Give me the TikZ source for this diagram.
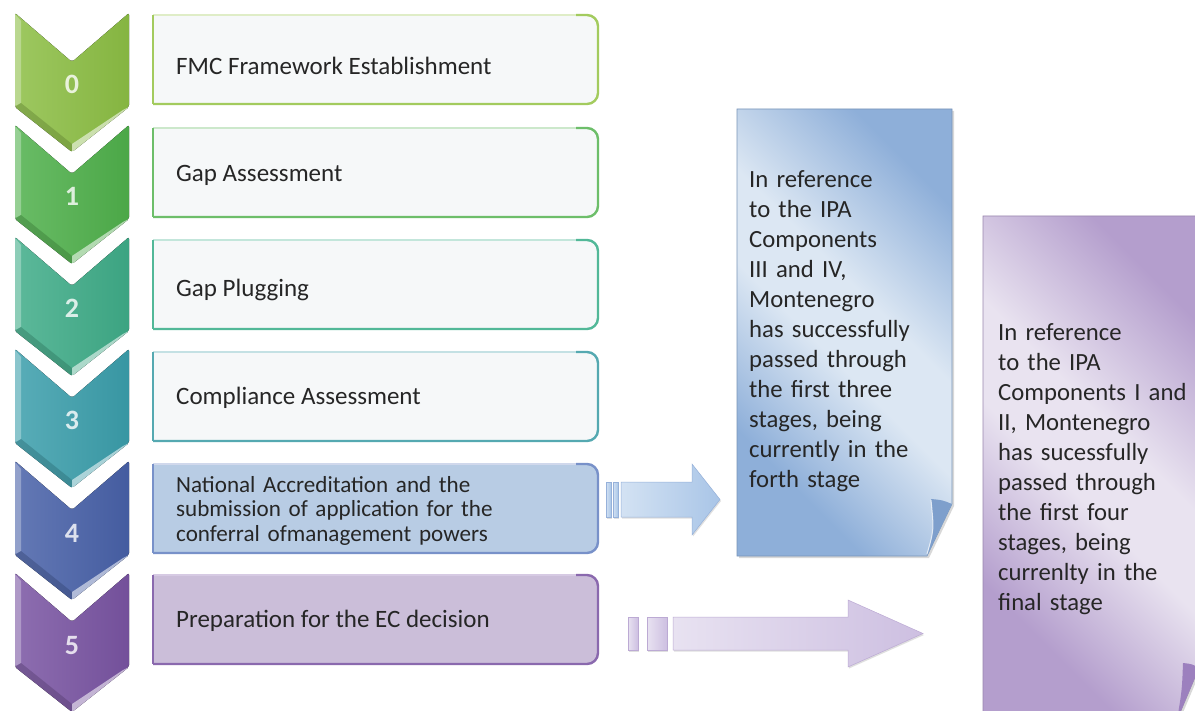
\documentclass[tikz,border=0pt]{standalone}
\usepackage{fontspec}
\setmainfont{Carlito}
\usepackage{tikz}
\usepackage{xcolor}
\usetikzlibrary{shadows}
\definecolor{StageLime}{HTML}{8CBE44}
\definecolor{StageGreen}{HTML}{4FB04B}
\definecolor{StageJade}{HTML}{3FAC88}
\definecolor{StageTeal}{HTML}{3B9EAB}
\definecolor{StageBlue}{HTML}{4861A8}
\definecolor{StagePurple}{HTML}{7954A2}
\definecolor{EdgeLime}{HTML}{A3CB5E}
\definecolor{EdgeGreen}{HTML}{6DBE6A}
\definecolor{EdgeJade}{HTML}{52B898}
\definecolor{EdgeTeal}{HTML}{55A9B1}
\definecolor{EdgeBlue}{HTML}{7891C9}
\definecolor{EdgePurple}{HTML}{8A69AE}
\definecolor{PaleFace}{HTML}{F6F8F9}
\definecolor{BlueFace}{HTML}{B8CCE4}
\definecolor{PurpleFace}{HTML}{CBBED9}
\definecolor{InkGray}{HTML}{262626}
\definecolor{NoteBlueDark}{HTML}{8EAFD9}
\definecolor{NoteBlueLight}{HTML}{DCE7F3}
\definecolor{NoteBlueFold}{HTML}{7E9FCC}
\definecolor{NotePurpleDark}{HTML}{B49ECD}
\definecolor{NotePurpleLight}{HTML}{E9E3F0}
\definecolor{NotePurpleFold}{HTML}{9C80BE}
\definecolor{ArrowBlueLight}{HTML}{D3E2F3}
\definecolor{ArrowBlue}{HTML}{A9C5E7}
\definecolor{ArrowPurpleLight}{HTML}{E8E2F1}
\definecolor{ArrowPurple}{HTML}{CDBFE1}
\pgfdeclarehorizontalshading{bluesheen}{100bp}{color(0bp)=(NoteBlueDark); color(28bp)=(NoteBlueDark); color(46bp)=(NoteBlueLight); color(56bp)=(NoteBlueLight); color(75bp)=(NoteBlueDark); color(100bp)=(NoteBlueDark)}
\pgfdeclarehorizontalshading{purplesheen}{100bp}{color(0bp)=(NotePurpleDark); color(28bp)=(NotePurpleDark); color(46bp)=(NotePurpleLight); color(56bp)=(NotePurpleLight); color(75bp)=(NotePurpleDark); color(100bp)=(NotePurpleDark)}
\tikzset{
  stageframe/.style={anchor=north west, minimum width=445pt, minimum height=89pt, inner sep=0pt, outer sep=0pt},
  stagetext/.style={anchor=base west, inner sep=0pt, text=InkGray, font=\fontsize{25}{30}\selectfont},
  notetext/.style={anchor=base west, inner sep=0pt, text width=205pt, align=left, text=InkGray, font=\fontsize{24.7}{30}\selectfont},
  digit/.style={anchor=base, inner sep=0pt, text=white, text opacity=.8, font=\fontsize{28}{28}\selectfont\bfseries},
  bluearrow/.style={left color=ArrowBlueLight, right color=ArrowBlue, draw=ArrowBlue!80!StageBlue, line width=.5pt, drop shadow={shadow xshift=1pt, shadow yshift=-1.5pt, opacity=.25}},
  purplearrow/.style={left color=ArrowPurpleLight, right color=ArrowPurple, draw=ArrowPurple!80!StagePurple, line width=.5pt, drop shadow={shadow xshift=1pt, shadow yshift=-1.5pt, opacity=.25}},
  bluenote/.style={shading=bluesheen, shading angle=45, draw=NoteBlueDark!85!black, line width=.6pt, drop shadow={shadow xshift=2pt, shadow yshift=-2pt, opacity=.3}},
  purplenote/.style={shading=purplesheen, shading angle=45, draw=NotePurpleDark!85!black, line width=.6pt, drop shadow={shadow xshift=2pt, shadow yshift=-2pt, opacity=.3}}
}
% chevron: top edge, colour, number
\newcommand\stagechevron[3]{%
  \fill[left color=#2!85!white, right color=#2!95!black, rounded corners=2pt]
    (15,#1) -- (72,#1+49) -- (129,#1) -- (129,#1+94) -- (72,#1+139) -- (15,#1+94) -- cycle;
  \fill[white, opacity=.3] (15,#1+1) -- (21,#1+8) -- (21,#1+90) -- (15,#1+93) -- cycle;
  \fill[#2!60!black, opacity=.35] (15,#1+94) -- (72,#1+139) -- (72,#1+131) -- (21,#1+90) -- cycle;
  \fill[white, opacity=.55] (72,#1+139) -- (129,#1+94) -- (123,#1+97) -- (72,#1+131) -- cycle;
  \node[digit] (digit#3) at (72,#1+81) {#3};
}
% box face: node, fill, edge colour
\newcommand\stageface[3]{%
  \fill[#2, rounded corners=11pt] (#1.north west) rectangle (#1.south east);
  \fill[#2] (#1.north west) rectangle ([xshift=20pt]#1.south west);
  \draw[#3!35, line width=1.4pt] (#1.north west) -- ([xshift=-14pt]#1.north east);
  \draw[#3, line width=2.4pt] (#1.north west) -- (#1.south west);
  \draw[#3, line width=2.4pt, rounded corners=11pt] (#1.south west) -- (#1.south east) -- (#1.north east) -- ([xshift=-22pt]#1.north east);
}

\begin{document}
\begin{tikzpicture}[x=1pt, y=-1pt]
\fill[white] (0,0) rectangle (1195,711);
\useasboundingbox (0,0) rectangle (1195,711);
\clip (0,0) rectangle (1195,711);

\stagechevron{13}{StageLime}{0}
\stagechevron{125}{StageGreen}{1}
\stagechevron{237}{StageJade}{2}
\stagechevron{349}{StageTeal}{3}
\stagechevron{461}{StageBlue}{4}
\stagechevron{573}{StagePurple}{5}

\node[stageframe] (box0) at (153,15) {};
\node[stageframe] (box1) at (153,128) {};
\node[stageframe] (box2) at (153,240) {};
\node[stageframe] (box3) at (153,352) {};
\node[stageframe] (box4) at (153,464) {};
\node[stageframe] (box5) at (153,575) {};
\stageface{box0}{PaleFace}{EdgeLime}
\stageface{box1}{PaleFace}{EdgeGreen}
\stageface{box2}{PaleFace}{EdgeJade}
\stageface{box3}{PaleFace}{EdgeTeal}
\stageface{box4}{BlueFace}{EdgeBlue}
\stageface{box5}{PurpleFace}{EdgePurple}

\node[stagetext] (text0) at (176,75) {FMC Framework Establishment};
\node[stagetext] (text1) at (176,182) {Gap Assessment};
\node[stagetext] (text2) at (176,297) {Gap Plugging};
\node[stagetext] (text3) at (176,405) {Compliance Assessment};
\node[stagetext, text width=420pt, align=left, font=\fontsize{23.1}{24}\selectfont] (text4) at (176,493)
  {National Accreditation and the\\submission of application for the\\conferral ofmanagement powers};
\node[stagetext] (text5) at (176,627) {Preparation for the EC decision};

\shadedraw[bluearrow] (606,482) rectangle (611,517);
\shadedraw[bluearrow] (613,482) rectangle (618,517);
\shadedraw[bluearrow] (621,482) -- (692,482) -- (692,464) -- (720,499.5) -- (692,535) -- (692,517) -- (621,517) -- cycle;

\shadedraw[purplearrow] (628,617) rectangle (638,650);
\shadedraw[purplearrow] (647,617) rectangle (667,650);
\shadedraw[purplearrow] (673,617) -- (848,617) -- (848,600) -- (923,633.5) -- (848,667) -- (848,650) -- (673,650) -- cycle;

\shadedraw[bluenote] (737,109) -- (952,109) -- (952,504) -- (927,556) -- (737,556) -- cycle;
\fill[NoteBlueFold] (931,499) .. controls (942,500) .. (952,504) -- (927,556) .. controls (934,530) .. (931,499) -- cycle;
\draw[white, opacity=.7, line width=1pt] (931,500) .. controls (934,530) .. (927,554);

\shadedraw[purplenote] (983,216) -- (1199,216) -- (1199,668) -- (1177,720) -- (983,720) -- cycle;
\fill[NotePurpleFold] (1183,663) .. controls (1192,664) .. (1199,668) -- (1177,720) .. controls (1182,690) .. (1183,663) -- cycle;

\node[notetext] (note1) at (749,188)
  {In reference\\to the IPA\\Components\\III and IV,\\Montenegro\\has successfully\\passed through\\the first three\\stages, being\\currently in the\\forth stage};
\node[notetext] (note2) at (998,341)
  {In reference\\to the IPA\\Components I and\\II, Montenegro\\has sucessfully\\passed through\\the first four\\stages, being\\currenlty in the\\final stage};
\end{tikzpicture}
\end{document}
